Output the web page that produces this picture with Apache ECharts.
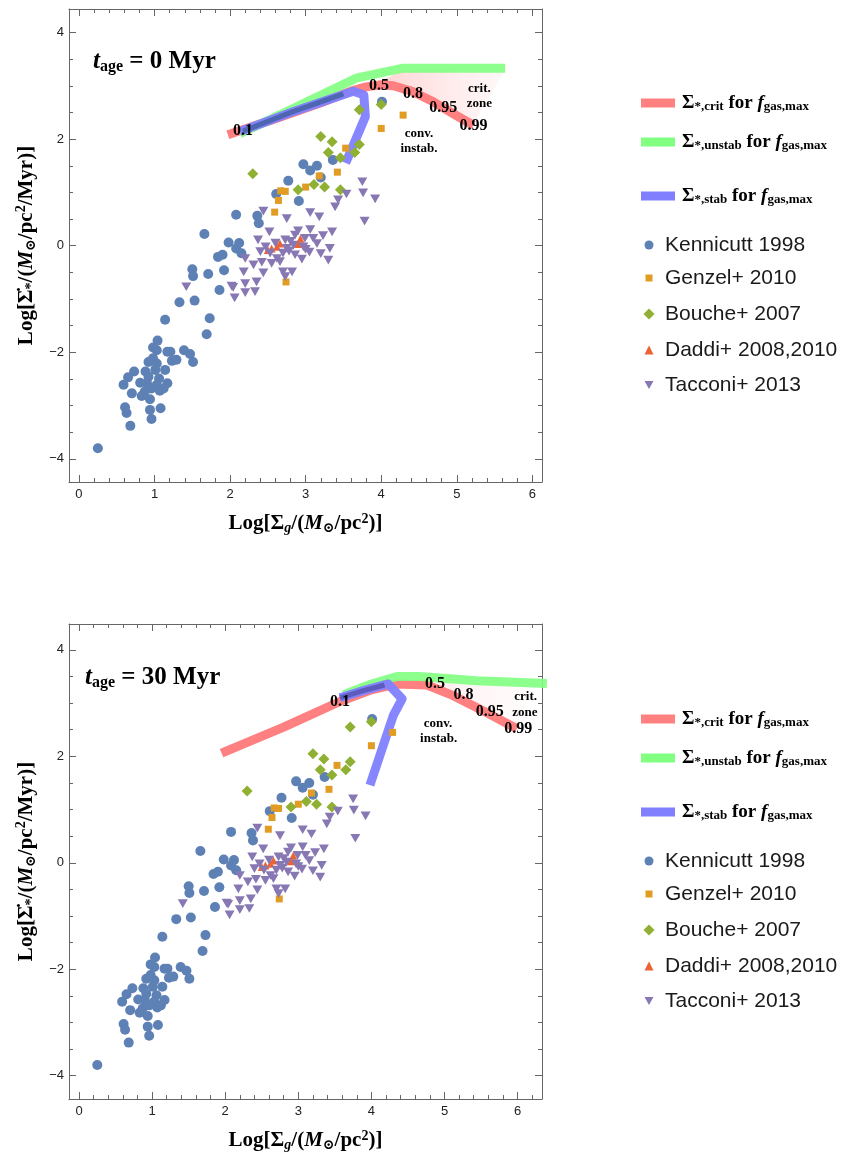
<!DOCTYPE html>
<html><head><meta charset="utf-8">
<script src="https://cdn.jsdelivr.net/npm/echarts@6/dist/echarts.min.js"></script>
<style>html,body{margin:0;padding:0;background:#fff}#c{width:845px;height:1155px}</style>
</head><body><div id="c"></div>
<script>
// ---------- data ----------
const xTickLabels = [0, 1, 2, 3, 4, 5, 6];
const yTickLabels = [-4, -2, 0, 2, 4];

const kennicutt = [
 [4.01,2.70],[3.36,1.61],[2.97,1.53],[3.15,1.50],[3.06,1.41],[3.20,1.28],[2.77,1.22],[2.61,0.97],[2.91,0.84],
 [2.08,0.58],[2.36,0.56],[2.38,0.42],[1.66,0.22],[1.98,0.06],[2.12,0.05],[2.08,-0.05],[2.15,-0.14],[1.84,-0.21],[1.90,-0.17],
 [1.50,-0.44],[1.51,-0.57],[1.71,-0.53],[1.92,-0.46],[1.86,-0.83],[1.33,-1.06],[1.53,-1.03],[1.73,-1.36],
 [1.14,-1.39],[1.69,-1.66],[1.04,-1.78],[0.98,-1.91],[1.03,-1.96],[1.17,-1.99],[1.21,-1.99],[1.39,-1.96],[1.47,-2.03],
 [1.51,-2.18],[1.29,-2.14],[1.23,-2.16],[0.92,-2.18],[1.03,-2.21],[1.14,-2.33],[0.88,-2.36],[0.73,-2.36],[0.65,-2.47],
 [0.59,-2.61],[0.81,-2.57],[0.90,-2.58],[1.06,-2.49],[1.17,-2.58],[1.12,-2.68],[0.96,-2.68],[1.07,-2.72],[0.87,-2.74],
 [0.83,-2.82],[0.70,-2.77],[0.94,-2.88],[0.61,-3.03],[0.63,-3.14],[0.94,-3.08],[1.08,-3.05],[0.96,-3.25],[0.68,-3.38],
 [0.25,-3.80],[1.01,-2.33],[1.03,-2.61],[0.92,-2.46],[0.98,-2.11]
];
const genzel = [[4.29,2.45],[4.00,2.20],[3.53,1.83],[3.42,1.38],[3.18,1.31],[3.00,1.10],[2.67,1.03],[2.73,1.02],[2.64,0.85],[2.59,0.63],[2.74,-0.68]];
const bouche = [[4.00,2.65],[3.71,2.55],[3.20,2.05],[3.35,1.95],[3.71,1.90],[3.30,1.75],[3.65,1.75],[3.46,1.65],[2.30,1.35],[3.11,1.15],[3.25,1.10],[2.90,1.05],[3.46,1.05]];
const daddi = [[2.50,-0.08],[2.55,-0.05],[2.62,-0.02],[2.66,0.04],[2.90,0.03],[2.93,0.13]];
const tacconi = [
 [3.75,1.20],[3.76,0.99],[3.92,0.88],[3.54,0.97],[3.43,0.86],[3.39,0.73],[3.78,0.46],[2.44,0.65],[3.06,0.62],[3.18,0.54],
 [2.75,0.51],[2.52,0.26],[3.06,0.30],[3.35,0.26],[3.23,0.19],[2.37,0.11],[2.86,0.20],[2.73,0.11],[2.99,0.14],[3.10,0.14],
 [2.84,0.01],[3.32,-0.05],[2.97,-0.02],[2.75,-0.05],[2.40,-0.11],[2.53,-0.14],[2.70,-0.14],[2.86,-0.17],[2.20,-0.24],[3.30,-0.27],
 [2.42,-0.31],[2.55,-0.33],[2.66,-0.30],[2.31,-0.36],[2.18,-0.49],[2.44,-0.51],[2.70,-0.49],[2.82,-0.49],[2.73,-0.58],[2.35,-0.68],
 [2.20,-0.71],[2.04,-0.78],[2.33,-0.86],[2.20,-0.88],[2.06,-0.98],[1.42,-0.77],[2.02,-0.76],
 [2.60,0.05],[2.78,-0.10],[3.00,-0.07],[2.90,0.28],[3.15,0.04],[2.95,-0.25],[2.47,-0.02],[2.62,-0.24],[3.05,-0.12],[2.80,0.08],[3.20,-0.15]
];

// model curves, t_age = 0 Myr
const crit0   = [[1.97,2.08],[2.6,2.38],[3.2,2.68],[3.6,2.90],[3.8,2.98],[4.0,3.02],[4.16,3.00],[4.42,2.89],[4.69,2.70],[4.95,2.48],[5.22,2.26]];
const unstab0 = [[2.13,2.10],[2.84,2.58],[3.68,3.15],[4.29,3.33],[5.64,3.33]];
const stab0   = [[2.13,2.14],[2.84,2.52],[3.63,2.90],[3.77,2.83],[3.79,2.42],[3.53,1.55]];
const core0   = [[2.17,2.15],[2.84,2.52],[3.50,2.85]];
const zone0   = [[3.95,3.06],[4.29,3.29],[5.64,3.29],[5.22,2.30],[4.95,2.50],[4.69,2.72],[4.42,2.91],[4.16,3.02]];
const fLabels0 = [[2.17,2.16,'0.1'],[3.97,3.00,'0.5'],[4.42,2.84,'0.8'],[4.82,2.58,'0.95'],[5.22,2.25,'0.99']];
const zLabels0 = [[5.30,2.95,'crit.'],[5.30,2.67,'zone'],[4.50,2.11,'conv.'],[4.50,1.83,'instab.']];

// model curves, t_age = 30 Myr
const crit30   = [[1.95,2.06],[2.8,2.55],[3.57,3.03],[4.0,3.25],[4.35,3.36],[4.76,3.34],[5.12,3.14],[5.58,2.82],[5.99,2.52]];
const unstab30 = [[3.62,3.16],[4.0,3.36],[4.35,3.50],[4.66,3.50],[5.44,3.42],[6.40,3.37]];
const stab30   = [[3.57,3.10],[3.9,3.24],[4.23,3.36],[4.42,3.08],[4.30,2.77],[3.98,1.46]];
const core30   = [[3.57,3.10],[3.9,3.24],[4.18,3.34]];
const zone30   = [[4.76,3.40],[5.44,3.38],[6.20,3.35],[5.99,2.52],[5.58,2.82],[5.12,3.14]];
const fLabels30 = [[3.57,3.03,'0.1'],[4.87,3.37,'0.5'],[5.26,3.15,'0.8'],[5.62,2.84,'0.95'],[6.01,2.51,'0.99']];
const zLabels30 = [[6.11,3.12,'crit.'],[6.10,2.83,'zone'],[4.91,2.62,'conv.'],[4.92,2.34,'instab.']];

// ---------- styling ----------
const SERIF = '"Liberation Serif","DejaVu Serif",serif';
const SANS = '"Liberation Sans",Arial,sans-serif';
const FRAME = '#666';
const C = {crit:'#ff8080', unstab:'#80ff80', stab:'#8080ff', ken:'#5e81b5', gen:'#e19c24', bou:'#8fb032', dad:'#eb6235', tac:'#8778b3'};
const TRI_DOWN = 'path://M0,0L10,0L5,8.66Z';

const panels = [
  {grid:{left:69, top:9, width:473, height:473}, xr:[-0.132,6.128], yr:[-4.433,4.441],
   crit:crit0, unstab:unstab0, stab:stab0, core:core0, zone:zone0, fl:fLabels0, zl:zLabels0,
   title:'0 Myr', titleLeft:88, titleTop:44, legendDy:0, coreColor:'#4862aa',
   zoneFill:[ 'rgba(255,175,175,0.55)', 'rgba(255,225,225,0.25)' ]},
  {grid:{left:69, top:624, width:473, height:475}, xr:[-0.137,6.334], yr:[-4.44,4.487],
   crit:crit30, unstab:unstab30, stab:stab30, core:core30, zone:zone30, fl:fLabels30, zl:zLabels30,
   title:'30 Myr', titleLeft:80, titleTop:660, legendDy:616, coreColor:'#5a56b8',
   zoneFill:[ 'rgba(255,200,200,0.35)', 'rgba(255,235,235,0.15)' ]}
];

const xMinor = [], yMinor = [];
for (let v = -0.2; v <= 6.4; v += 0.2) { const r = Math.round(v*10)/10; if (Math.abs(r - Math.round(r)) > 1e-6) xMinor.push(r); }
for (let v = -4.5; v <= 4.5; v += 0.5) { if (Math.abs(v/2 - Math.round(v/2)) > 1e-6) yMinor.push(v); }

const richAxis = {
  n:{fontFamily:SERIF, fontWeight:'bold', fontSize:21, color:'#000'},
  i:{fontFamily:SERIF, fontWeight:'bold', fontStyle:'italic', fontSize:21, color:'#000'},
  sb:{fontFamily:SERIF, fontWeight:'bold', fontSize:14, color:'#000', padding:[9,0,0,0]},
  sbi:{fontFamily:SERIF, fontWeight:'bold', fontStyle:'italic', fontSize:14, color:'#000', padding:[9,0,0,0]},
  sp:{fontFamily:SERIF, fontWeight:'bold', fontSize:14, color:'#000', padding:[0,0,10,0]}
};
const xName = '{n|Log[Σ}{sbi|g}{n|/(}{i|M}{sb|⊙}{n|/pc}{sp|2}{n|)]}';
const yName = '{n|Log[Σ\u0307}{sb|*}{n|/(}{i|M}{sb|⊙}{n|/pc}{sp|2}{n|/Myr)]}';
const fmtY = v => (v < 0 ? '\u2212' + Math.abs(v) : String(v));

const xAxis = [], yAxis = [], series = [], legend = [], title = [], grid = [];
panels.forEach((P, g) => {
  grid.push(P.grid);
  const base = {gridIndex:g, type:'value', splitLine:{show:false}, axisPointer:{show:false}};
  const line = {show:true, onZero:false, lineStyle:{color:FRAME, width:1}};
  const tickS = {color:FRAME, width:1};
  const mk = (pos, isX, major, vals, extra) => Object.assign({}, base, {
    position:pos, min:isX?P.xr[0]:P.yr[0], max:isX?P.xr[1]:P.yr[1],
    axisLine: major ? line : {show:false, onZero:false},
    axisTick:{show:true, inside:true, length: major?7:4, customValues:vals, lineStyle:tickS},
    axisLabel:{show:false}
  }, extra || {});
  xAxis.push(mk('bottom', true, true, xTickLabels, {
    axisLabel:{show:true, customValues:xTickLabels, fontFamily:SANS, fontSize:13, color:'#222', margin:6},
    name:xName, nameLocation:'middle', nameGap:30, nameTextStyle:{rich:richAxis}
  }));
  xAxis.push(mk('bottom', true, false, xMinor));
  xAxis.push(mk('top', true, true, xTickLabels));
  xAxis.push(mk('top', true, false, xMinor));
  yAxis.push(mk('left', false, true, yTickLabels, {
    axisLabel:{show:true, customValues:yTickLabels, fontFamily:SANS, fontSize:13, color:'#222', margin:5, formatter:fmtY},
    name:yName, nameLocation:'middle', nameRotate:90, nameGap:29, nameTextStyle:{rich:richAxis}
  }));
  yAxis.push(mk('left', false, false, yMinor));
  yAxis.push(mk('right', false, true, yTickLabels));
  yAxis.push(mk('right', false, false, yMinor));
  const xi = g*4, yi = g*4;
  const common = {xAxisIndex:xi, yAxisIndex:yi, animation:false, silent:true};

  // crit zone shading
  series.push(Object.assign({}, common, {
    type:'custom', name:'zone'+g, z:1, clip:true, data:P.zone,
    renderItem:(params, api) => {
      if (params.dataIndex !== 0) return null;
      const pts = P.zone.map(p => api.coord(p));
      return {type:'polygon', shape:{points:pts}, style:{
        fill:new echarts.graphic.LinearGradient(0,0,1,0,[{offset:0,color:P.zoneFill[0]},{offset:1,color:P.zoneFill[1]}]),
        stroke:null}};
    }
  }));
  const lineSeries = (name, data, color, width, opacity) => Object.assign({}, common, {
    type:'line', name, data, z:2, symbol:'none', showSymbol:false, clip:true,
    lineStyle:{color, width, cap:'butt', join:'round', opacity:opacity==null?1:opacity},
    itemStyle:{color}
  });
  series.push(lineSeries('crit', P.crit, C.crit, 9));
  series.push(lineSeries('unstab', P.unstab, C.unstab, 9, 0.9));
  series.push(lineSeries('stab', P.stab, C.stab, 9, 0.95));
  series.push(lineSeries('core'+g, P.core, P.coreColor, 5, 0.9));

  const sc = (name, data, symbol, size, color) => Object.assign({}, common, {
    type:'scatter', name, data, z:3, symbol, symbolSize:size, itemStyle:{color, opacity:1}
  });
  series.push(sc('Kennicutt 1998', kennicutt, 'circle', 10, C.ken));
  series.push(sc('Genzel+ 2010', genzel, 'rect', 7, C.gen));
  series.push(sc('Bouche+ 2007', bouche, 'diamond', 11, C.bou));
  series.push(sc('Daddi+ 2008,2010', daddi, 'triangle', 8, C.dad));
  series.push(sc('Tacconi+ 2013', tacconi, TRI_DOWN, [10,8.7], C.tac));

  const txt = (arr, font) => Object.assign({}, common, {
    type:'custom', name:'lbl'+g+font, z:5, data:arr.map(a => [a[0], a[1]]),
    renderItem:(params, api) => {
      const p = api.coord([api.value(0), api.value(1)]);
      return {type:'text', x:p[0], y:p[1], style:{text:arr[params.dataIndex][2], font, fill:'#000', align:'center', verticalAlign:'middle'}};
    }
  });
  series.push(txt(P.fl, 'bold 16px ' + SERIF));
  series.push(txt(P.zl, 'bold 13px ' + SERIF));

  // title
  title.push({
    text:'{t|t}{s|age}{m| = ' + P.title + '}', left:P.titleLeft, top:P.titleTop,
    textStyle:{rich:{
      t:{fontFamily:SERIF, fontWeight:'bold', fontStyle:'italic', fontSize:25, color:'#000'},
      s:{fontFamily:SERIF, fontWeight:'bold', fontSize:16, color:'#000', padding:[10,0,0,0]},
      m:{fontFamily:SERIF, fontWeight:'bold', fontSize:25, color:'#000'}
    }}
  });

  // legends
  const dy = P.legendDy;
  const curveRich = {
    g:{width:2},
    n:{fontFamily:SERIF, fontWeight:'bold', fontSize:19, color:'#000'},
    i:{fontFamily:SERIF, fontWeight:'bold', fontStyle:'italic', fontSize:19, color:'#000'},
    s:{fontFamily:SERIF, fontWeight:'bold', fontSize:13, color:'#000', padding:[8,0,0,0]}
  };
  const curveText = {crit:'*,crit', unstab:'*,unstab', stab:'*,stab'};
  [['crit',103],['unstab',142],['stab',196]].forEach(([nm, cy]) => {
    legend.push({
      data:[{name:nm, icon:'rect'}], left:636, top:cy + dy - 18, itemWidth:34, itemHeight:9,
      symbolKeepAspect:false, selectedMode:false,
      formatter: n => '{g|}{n|Σ}{s|' + curveText[n] + '}{n| for }{i|f}{s|gas,max}',
      textStyle:{lineHeight:26, rich:curveRich}
    });
  });
  [['Kennicutt 1998',244,'circle',9],['Genzel+ 2010',277,'rect',7],['Bouche+ 2007',313,'diamond',11],
   ['Daddi+ 2008,2010',349,'triangle',9],['Tacconi+ 2013',384,TRI_DOWN,9]].forEach(([nm, cy, icon, h]) => {
    const gap = Math.max(0, 665 - (644 + h/2) - 10);
    legend.push({
      data:[{name:nm, icon}], left:644 - h/2, top:cy + dy - 16, itemWidth:h, itemHeight:h, selectedMode:false,
      symbolRotate:0, symbolKeepAspect:true,
      formatter: n => '{g|}{t|' + n + '}',
      textStyle:{lineHeight:24, rich:{g:{width:gap}, t:{fontFamily:SANS, fontSize:21, color:'#1a1a1a', lineHeight:24}}}
    });
  });
});

const chart = echarts.init(document.getElementById('c'), null, {renderer:'canvas'});
chart.setOption({backgroundColor:'#fff', animation:false, grid, xAxis, yAxis, series, legend, title});
</script></body></html>
